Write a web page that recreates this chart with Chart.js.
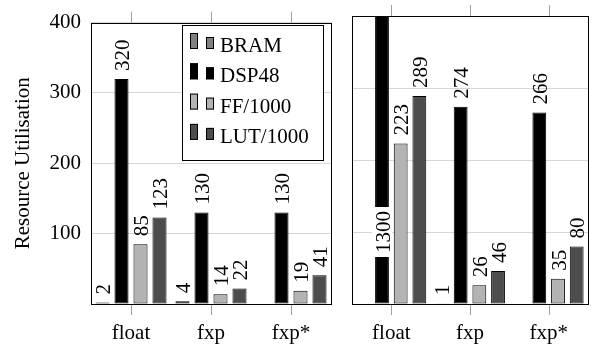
<!DOCTYPE html>
<html>
<head>
<meta charset="utf-8">
<script src="https://cdn.jsdelivr.net/npm/chart.js@4"></script>
<style>
  html, body { margin: 0; padding: 0; background: #fff; }
  #wrap { position: relative; width: 598px; height: 345px; }
  canvas { position: absolute; top: 0; }
</style>
</head>
<body>
<div id="wrap">
  <canvas id="leftChart" width="340" height="345" style="left:0"></canvas>
  <canvas id="rightChart" width="258" height="345" style="left:340px"></canvas>
</div>
<script>
const categories = ['float', 'fxp', 'fxp*'];
const seriesNames = ['BRAM', 'DSP48', 'FF/1000', 'LUT/1000'];
const seriesColors = ['#808080', '#000000', '#b3b3b3', '#4d4d4d'];

// left panel
const bramLeft = [2, 4, null];
const dspLeft = [320, 130, 130];
const ffLeft = [85, 14, 19];
const lutLeft = [123, 22, 41];

// right panel
const bramRight = [null, 1, null];
const dspRight = [1300, 274, 266];
const ffRight = [223, 26, 35];
const lutRight = [289, 46, 80];

const yTicks = [100, 200, 300, 400];

const FONT = '"Liberation Serif", "DejaVu Serif", serif';
const FS = 21;

const makeDatasets = (cols) => cols.map((data, i) => ({
  label: seriesNames[i],
  data,
  backgroundColor: seriesColors[i],
  borderColor: '#000',
  borderWidth: 1,
  borderSkipped: false,
  categoryPercentage: 0.95,
  barPercentage: 0.74
}));

const valueLabels = {
  id: 'valueLabels',
  afterDatasetsDraw(chart) {
    const { ctx, scales: { y } } = chart;
    ctx.save();
    ctx.font = `${FS}px ${FONT}`;
    ctx.textBaseline = 'middle';
    chart.data.datasets.forEach((ds, i) => {
      chart.getDatasetMeta(i).data.forEach((bar, j) => {
        const v = ds.data[j];
        if (v == null) return;
        ctx.save();
        if (v > y.max) {
          // value off the scale: write it inside the bar on a white patch
          const cy = y.getPixelForValue(100);
          const w = ctx.measureText(String(v)).width;
          ctx.fillStyle = '#fff';
          ctx.fillRect(bar.x - 10, cy - w / 2 - 4, 20, w + 8);
          ctx.translate(bar.x + 2, cy);
          ctx.rotate(-Math.PI / 2);
          ctx.fillStyle = '#000';
          ctx.textAlign = 'center';
          ctx.fillText(String(v), 0, 0);
        } else {
          ctx.translate(bar.x + 2, bar.y - 8);
          ctx.rotate(-Math.PI / 2);
          ctx.fillStyle = '#000';
          ctx.textAlign = 'left';
          ctx.fillText(String(v), 0, 0);
        }
        ctx.restore();
      });
    });
    ctx.restore();
  }
};

const frame = {
  id: 'frame',
  afterDraw(chart) {
    const { ctx, chartArea: a, scales: { x } } = chart;
    ctx.save();
    ctx.strokeStyle = '#a0a0a0';
    ctx.lineWidth = 1;
    categories.forEach((c, i) => {
      const px = Math.round(x.getPixelForValue(i)) + 0.5;
      ctx.beginPath();
      ctx.moveTo(px, a.top - 11);
      ctx.lineTo(px, a.top);
      ctx.moveTo(px, a.bottom);
      ctx.lineTo(px, a.bottom + 11);
      ctx.stroke();
    });
    ctx.strokeStyle = '#000';
    ctx.strokeRect(Math.round(a.left) + 0.5, Math.round(a.top) + 0.5,
      Math.round(a.right - a.left), Math.round(a.bottom - a.top));
    ctx.restore();
  }
};

const legendBox = {
  id: 'legendBox',
  afterDraw(chart) {
    const { ctx } = chart;
    ctx.save();
    ctx.fillStyle = '#fff';
    ctx.fillRect(182, 25, 141, 135);
    ctx.strokeStyle = '#000';
    ctx.lineWidth = 1;
    ctx.strokeRect(182.5, 25.5, 141, 135);
    ctx.font = `${FS}px ${FONT}`;
    ctx.textBaseline = 'alphabetic';
    ctx.textAlign = 'left';
    seriesNames.forEach((name, i) => {
      const bottom = 49 + i * 30.3;
      ctx.fillStyle = seriesColors[i];
      ctx.fillRect(190, bottom - 16, 8, 16);
      ctx.fillRect(206, bottom - 12, 8, 12);
      ctx.strokeStyle = '#000';
      ctx.strokeRect(190.5, bottom - 15.5, 7, 15);
      ctx.strokeRect(206.5, bottom - 11.5, 7, 11);
      ctx.fillStyle = '#000';
      ctx.fillText(name, 220, bottom + 3);
    });
    ctx.restore();
  }
};

const buildOptions = (isLeft) => ({
  responsive: false,
  animation: false,
  events: [],
  layout: { padding: isLeft ? { top: 16, right: 9, left: 0, bottom: 0 } : { top: 16, right: 10, left: 0, bottom: 0 } },
  plugins: { legend: { display: false }, tooltip: { enabled: false } },
  scales: {
    x: {
      grid: { display: false },
      border: { display: false },
      ticks: { color: '#000', font: { family: FONT, size: FS }, padding: 9, maxRotation: 0 },
      afterFit: (s) => { s.height = 41; }
    },
    y: {
      min: 0,
      max: 400,
      afterBuildTicks: (s) => { s.ticks = [0, ...yTicks].map((v) => ({ value: v })); },
      grid: { color: '#d6d6d6', drawTicks: false },
      border: { display: false },
      ticks: {
        display: isLeft,
        color: '#000',
        padding: 10,
        font: { family: FONT, size: FS },
        callback: (v) => (v === 0 ? '' : v)
      },
      title: {
        display: isLeft,
        text: 'Resource Utilisation',
        color: '#000',
        font: { family: FONT, size: FS },
        padding: { top: 11, bottom: 0 }
      },
      afterFit: (s) => { s.width = isLeft ? 91 : 12; }
    }
  }
});

new Chart(document.getElementById('leftChart'), {
  type: 'bar',
  data: { labels: categories, datasets: makeDatasets([bramLeft, dspLeft, ffLeft, lutLeft]) },
  options: buildOptions(true),
  plugins: [valueLabels, frame, legendBox]
});

new Chart(document.getElementById('rightChart'), {
  type: 'bar',
  data: { labels: categories, datasets: makeDatasets([bramRight, dspRight, ffRight, lutRight]) },
  options: buildOptions(false),
  plugins: [valueLabels, frame]
});
</script>
</body>
</html>
